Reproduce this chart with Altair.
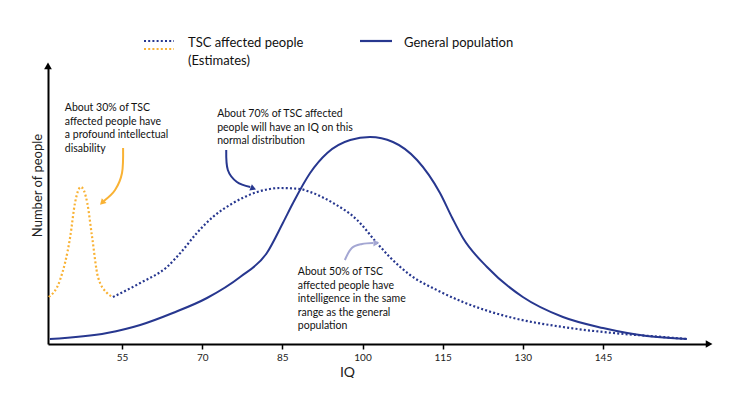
import altair as alt
import pandas as pd

FONT = "Lato"
BLUE = "#27378f"
ORANGE = "#f9b234"
PURPLE = "#a4a7d3"

# General population curve (IQ, relative number of people)
gen_iq = [41.5, 52.2, 58.4, 64.5, 70.9, 77.1, 82.1, 85.1, 87.0, 90.2, 93.4, 97.7,
          101.4, 105.7, 110.2, 114.5, 116.8, 118.8, 123.3, 130.0, 137.5, 145.0, 153.2, 160.7]
gen_n = [5, 11, 19, 31, 46, 67, 91, 121, 141, 171, 191, 204,
         207, 202, 184, 151, 126, 106, 77, 47, 27, 16, 8, 5]

# TSC affected people, profound intellectual disability peak (estimate)
tsc_low_iq = [41.3, 43.4, 45.3, 46.2, 47.3, 48.5, 49.4, 50.5, 52.2, 53.3]
tsc_low_n = [47, 64, 107, 141, 157, 141, 107, 67, 51, 47]

# TSC affected people, main distribution (estimate)
tsc_iq = [53.3, 58.4, 63.4, 66.4, 69.0, 72.0, 75.8, 80.3, 84.6, 88.3, 90.2, 94.5, 99.0,
          102.7, 105.1, 108.9, 113.9, 118.8, 123.5, 128.2, 137.5, 146.9, 156.2, 160.7]
tsc_n = [47, 61, 77, 94, 111, 127, 141, 152, 156, 155, 152, 141, 124,
         101, 87, 69, 54, 42, 33, 26, 17, 11, 7, 5]

x_ticks = [55, 70, 85, 100, 115, 130, 145]

# annotations (anchored in data units)
ann_text = [
    "About 30% of TSC\naffected people have\na profound intellectual\ndisability",
    "About 70% of TSC affected\npeople will have an IQ on this\nnormal distribution",
    "About 50% of TSC\naffected people have\nintelligence in the same\nrange as the general\npopulation",
]
ann_iq = [44.3, 72.8, 87.9]
ann_n = [241, 235, 77]

# curved annotation arrows (path points in data units)
arrow_id = ["o", "o", "o", "o", "b", "b", "b", "b", "p", "p", "p", "p"]
arrow_iq = [55.2, 55.0, 53.7, 51.6, 74.5, 74.8, 76.5, 79.0, 96.7, 98.0, 99.9, 102.0]
arrow_n = [196, 171, 154, 143, 194, 174, 162, 157, 84, 96, 100, 101]
arrow_ord = [0, 1, 2, 3, 0, 1, 2, 3, 0, 1, 2, 3]
head_id = ["o", "b", "p"]
head_iq = [51.4, 79.4, 102.4]
head_n = [142, 156, 101]
head_angle = [225, 112, 88]

X_MIN, X_MAX = 41.15, 164.65
Y_MAX = 277

xs = alt.Scale(domain=[X_MIN, X_MAX], nice=False, zero=False)
ys = alt.Scale(domain=[0, Y_MAX], nice=False, zero=False)

gen_df = pd.DataFrame({"iq": gen_iq, "n": gen_n})
low_df = pd.DataFrame({"iq": tsc_low_iq, "n": tsc_low_n})
tsc_df = pd.DataFrame({"iq": tsc_iq, "n": tsc_n})
ann_df = pd.DataFrame({"iq": ann_iq, "n": ann_n, "t": ann_text})
arr_df = pd.DataFrame({"id": arrow_id, "iq": arrow_iq, "n": arrow_n, "o": arrow_ord})
head_df = pd.DataFrame({"id": head_id, "iq": head_iq, "n": head_n, "a": head_angle})

x_axis = alt.Axis(values=x_ticks, title="IQ", grid=False, domainWidth=2, domainColor="black",
                  tickColor="black", tickWidth=1.5, tickSize=5, labelFontSize=10, labelFont=FONT,
                  labelColor="#222", labelPadding=3, titleFont=FONT, titleFontSize=14,
                  titleFontWeight="normal", titleColor="#222", titleX=299, titleY=28,
                  titleBaseline="middle", titleAlign="center")
y_axis = alt.Axis(title="Number of people", labels=False, ticks=False, grid=False, domainWidth=2,
                  domainColor="black", titleFont=FONT, titleFontSize=13, titleFontWeight="normal",
                  titleColor="#222", titleX=-11, titleY=118, titleAngle=270,
                  titleBaseline="middle", titleAlign="center")

X = alt.X("iq:Q", scale=xs, axis=x_axis)
Y = alt.Y("n:Q", scale=ys, axis=y_axis)
cscale = alt.Scale(domain=["o", "b", "p"], range=[ORANGE, BLUE, PURPLE])

gen = alt.Chart(gen_df).mark_line(interpolate="monotone", color=BLUE, strokeWidth=2).encode(x=X, y=Y)
low = alt.Chart(low_df).mark_line(interpolate="monotone", color=ORANGE, strokeWidth=2.2,
                                  strokeDash=[2, 2.2]).encode(x=X, y=Y)
tsc = alt.Chart(tsc_df).mark_line(interpolate="monotone", color=BLUE, strokeWidth=2.2,
                                  strokeDash=[2, 2.2]).encode(x=X, y=Y)

ann = alt.Chart(ann_df).mark_text(align="left", baseline="top", font=FONT, fontSize=10.5,
                                  lineBreak="\n", lineHeight=13.5, color="#111").encode(
    x=X, y=Y, text="t:N")

arr = alt.Chart(arr_df).mark_line(interpolate="cardinal", strokeWidth=2).encode(
    x=X, y=Y, detail="id:N", order="o:Q",
    color=alt.Color("id:N", scale=cscale, legend=None))
heads = alt.Chart(head_df).mark_point(shape="triangle", filled=True, size=45, opacity=1).encode(
    x=X, y=Y, angle=alt.Angle("a:Q", scale=None),
    color=alt.Color("id:N", scale=cscale, legend=None))

axis_heads_df = pd.DataFrame({"iq": [X_MAX, X_MIN], "n": [0, Y_MAX], "a": [90, 0]})
axis_heads = alt.Chart(axis_heads_df).mark_point(shape="triangle", filled=True, size=60,
                                                 color="black", opacity=1).encode(
    x=X, y=Y, angle=alt.Angle("a:Q", scale=None))

# manual legend
one = pd.DataFrame({"k": [0]})
leg_tsc_b = alt.Chart(one).mark_rule(color=BLUE, strokeWidth=2.2, strokeDash=[2, 2.2]).encode(
    x=alt.value(96), x2=alt.value(126), y=alt.value(-26))
leg_tsc_o = alt.Chart(one).mark_rule(color=ORANGE, strokeWidth=2.2, strokeDash=[2, 2.2]).encode(
    x=alt.value(96), x2=alt.value(126), y=alt.value(-18))
leg_gen = alt.Chart(one).mark_rule(color=BLUE, strokeWidth=2.2).encode(
    x=alt.value(312), x2=alt.value(344), y=alt.value(-26))
leg_t1 = alt.Chart(one).mark_text(align="left", baseline="top", font=FONT, fontSize=13,
                                  lineBreak="\n", lineHeight=18, color="#111").encode(
    x=alt.value(140), y=alt.value(-30), text=alt.value("TSC affected people\n(Estimates)"))
leg_t2 = alt.Chart(one).mark_text(align="left", baseline="top", font=FONT, fontSize=13,
                                  color="#111").encode(
    x=alt.value(356), y=alt.value(-30), text=alt.value("General population"))

chart = alt.layer(gen, low, tsc, arr, heads, ann, axis_heads,
                  leg_tsc_b, leg_tsc_o, leg_gen, leg_t1, leg_t2).properties(
    width=660, height=Y_MAX,
    autosize=alt.AutoSizeParams(type="none"),
    padding={"left": 40, "top": 59, "right": 27, "bottom": 34},
).configure_view(stroke=None)

chart.save("out.html", embed_options={"renderer": "svg", "actions": False})
